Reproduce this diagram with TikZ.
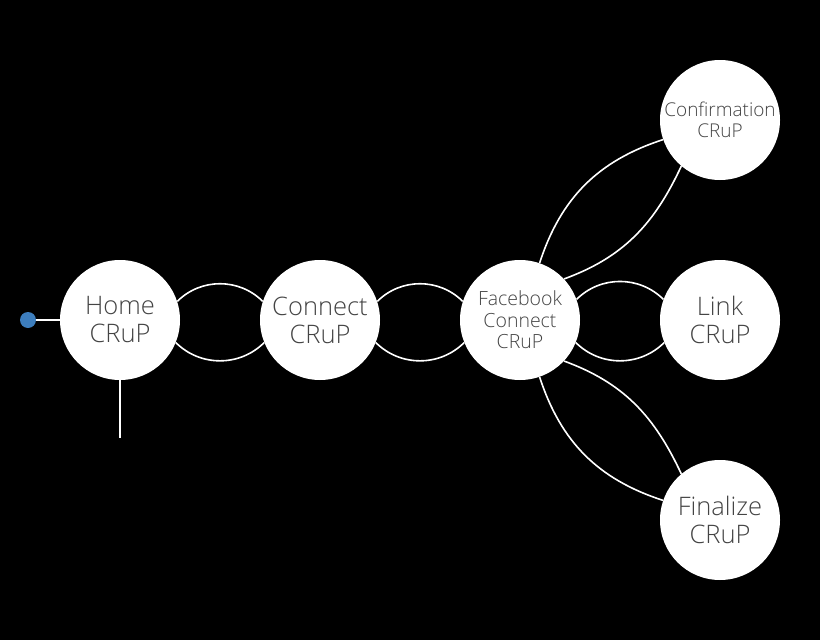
\documentclass[tikz,border=0pt]{standalone}
\usepackage{fontspec}
\setmainfont{Open Sans}[UprightFont=* Light]
\usepackage{tikz}
\definecolor{crupgray}{HTML}{444444}
\definecolor{startblue}{HTML}{3D7EBE}
\usetikzlibrary{positioning}

\begin{document}
\begin{tikzpicture}[x=1pt,y=-1pt,
  crup/.style={circle,fill=white,minimum size=120pt,inner sep=0pt,
    text=crupgray,align=center},
  big/.style={font=\fontsize{25.5}{28}\selectfont},
  small/.style={font=\fontsize{19.5}{21.5}\selectfont},
  tiny/.style={font=\fontsize{19}{20.5}\selectfont},
  link/.style={draw=white,line width=1.6pt}]
\fill[black] (0,0) rectangle (820,640);
\useasboundingbox (0,0) rectangle (820,640);
% states
\node[crup,big]   (home)    at (120,320) {Home\\CRuP};
\node[crup,big]   (connect) at (320,320) {Connect\\CRuP};
\node[crup,small] (fb)      at (520,320) {Facebook\\Connect\\CRuP};
\node[crup,tiny]  (conf)    at (720,120) {Confirmation\\CRuP};
\node[crup,big]   (lnk)     at (720,320) {Link\\CRuP};
\node[crup,big]   (final)   at (720,520) {Finalize\\CRuP};
% entry and exit
\node[circle,fill=startblue,minimum size=16pt,inner sep=0pt] (start) at (28,320) {};
\coordinate (exit) at (120,438);
\draw[link] (start) -- (home);
\draw[link] (home) -- (exit);
% pairs of transitions
\draw[link] (home.18) to[out=45,in=135] (connect.162);
\draw[link] (home.-22) to[out=-45,in=-135] (connect.-158);
\draw[link] (connect.18) to[out=45,in=135] (fb.162);
\draw[link] (connect.-22) to[out=-45,in=-135] (fb.-158);
\draw[link] (fb.20) to[out=45,in=135] (lnk.160);
\draw[link] (fb.-22) to[out=-45,in=-135] (lnk.-158);
\draw[link] (fb.71) to[out=72,in=198] (conf.199);
\draw[link] (fb.43) to[out=20,in=245] (conf.230);
\draw[link] (fb.-71) to[out=-72,in=-198] (final.-199);
\draw[link] (fb.-43) to[out=-20,in=-245] (final.-230);
\end{tikzpicture}
\end{document}
